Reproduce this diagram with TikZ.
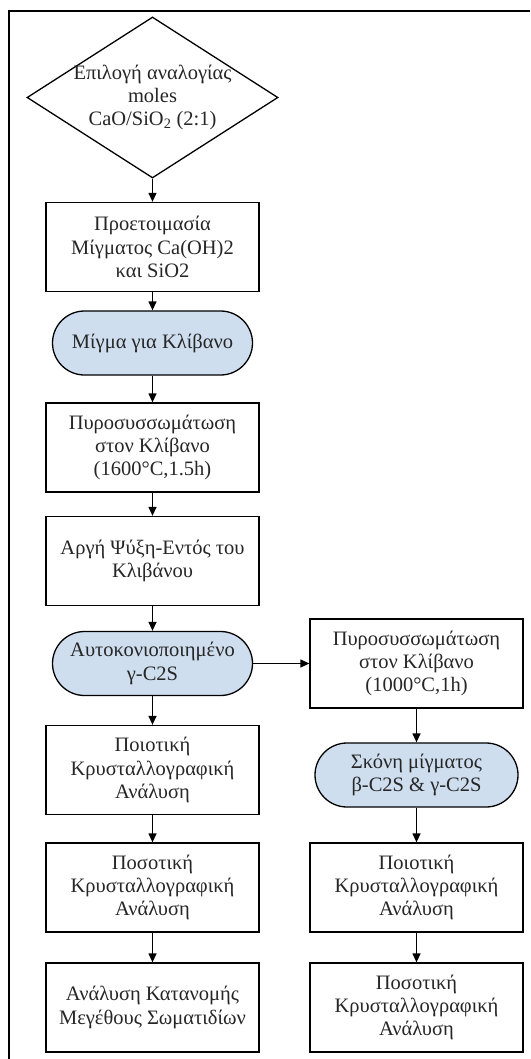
\documentclass[tikz,border=0pt]{standalone}
\usepackage{fontspec}
\setmainfont{Liberation Serif}
\usetikzlibrary{arrows.meta, shapes.geometric}
\definecolor{pillblue}{RGB}{206,222,239}

\begin{document}
\begin{tikzpicture}[
    x=1pt, y=-1pt, ->, >={Triangle[length=9pt, width=8pt]}, line width=1.3pt,
    font=\fontsize{20.5}{23.3}\selectfont,
    box/.style={draw, rectangle, align=center, text=black!85, minimum width=213pt, minimum height=89pt, inner sep=0pt},
    pill/.style={draw, rectangle, rounded corners=32pt, fill=pillblue, align=center, text=black!85, minimum width=200pt, minimum height=64pt, inner sep=0pt},
    decision/.style={draw, diamond, minimum width=251pt, minimum height=161pt, inner sep=0pt}
]
\useasboundingbox (0,0) rectangle (530,1059);
\draw[-] (530,11) -- (9,11) -- (9,1059);

% main column
\node (choice_ratio) [decision, label={[align=center, text=black!85]center:Επιλογή αναλογίας\\moles\\CaO/SiO\textsubscript{2} (2:1)}] at (152.5,97.5) {};
\node (prep_mix) [box] at (152.5,247) {Προετοιμασία\\Μίγματος Ca(OH)2\\και SiO2};
\node (kiln_mix) [pill] at (152.5,343) {Μίγμα για Κλίβανο};
\node (sinter_1600) [box] at (152.5,447.5) {Πυροσυσσωμάτωση\\στον Κλίβανο\\(1600°C,1.5h)};
\node (slow_cool) [box] at (152.5,561) {Αργή Ψύξη-Εντός του\\Κλιβάνου};
\node (self_dust) [pill] at (152.5,663.5) {Αυτοκονιοποιημένο\\γ-C2S};
\node (qual_a) [box] at (152.5,770) {Ποιοτική\\Κρυσταλλογραφική\\Ανάλυση};
\node (quant_a) [box] at (152.5,887.5) {Ποσοτική\\Κρυσταλλογραφική\\Ανάλυση};
\node (psd) [box] at (152.5,1007.5) {Ανάλυση Κατανομής\\Μεγέθους Σωματιδίων};

% side column
\node (sinter_1000) [box] at (416.5,663.5) {Πυροσυσσωμάτωση\\στον Κλίβανο\\(1000°C,1h)};
\node (mix_powder) [pill, minimum width=203pt] at (416.5,775) {Σκόνη μίγματος\\β-C2S \& γ-C2S};
\node (qual_b) [box] at (416.5,887.5) {Ποιοτική\\Κρυσταλλογραφική\\Ανάλυση};
\node (quant_b) [box] at (416.5,1007.5) {Ποσοτική\\Κρυσταλλογραφική\\Ανάλυση};

\draw[->] (choice_ratio) -- (prep_mix);
\draw[->] (prep_mix) -- (kiln_mix);
\draw[->] (kiln_mix) -- (sinter_1600);
\draw[->] (sinter_1600) -- (slow_cool);
\draw[->] (slow_cool) -- (self_dust);
\draw[->] (self_dust) -- (qual_a);
\draw[->] (qual_a) -- (quant_a);
\draw[->] (quant_a) -- (psd);
\draw[->] (self_dust) -- (sinter_1000);
\draw[->] (sinter_1000) -- (mix_powder);
\draw[->] (mix_powder) -- (qual_b);
\draw[->] (qual_b) -- (quant_b);
\end{tikzpicture}
\end{document}
